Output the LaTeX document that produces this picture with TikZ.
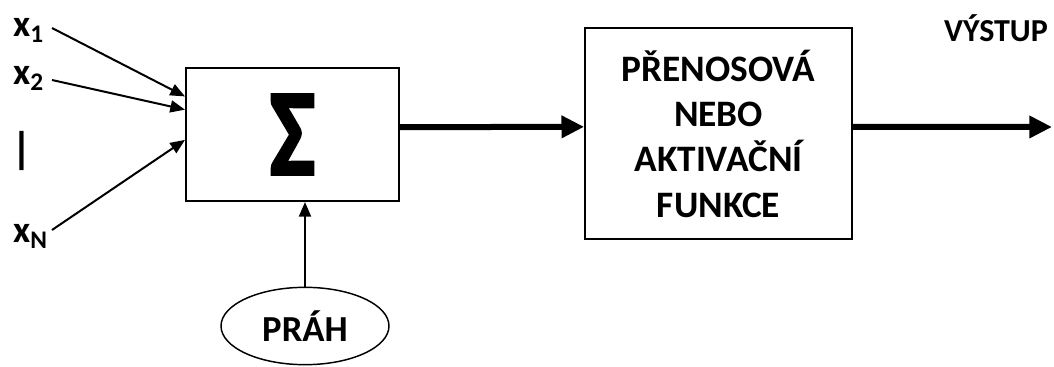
\documentclass[tikz,border=0pt]{standalone}
\usepackage{fontspec}
\setmainfont{Carlito}
\newfontfamily\sigmafont[BoldFont=*,BoldFeatures={FakeBold=2.5}]{Carlito Bold}
\usetikzlibrary{arrows.meta,shapes.geometric,calc}
\newcommand{\insub}[2]{#1\raisebox{-4pt}{\fontsize{19}{19}\selectfont #2}}
\begin{document}
\begin{tikzpicture}[x=0.75pt,y=-0.75pt,font=\bfseries,
  block/.style={draw,line width=1.5pt,inner sep=0pt},
  inlabel/.style={anchor=base west,inner sep=0pt,font=\bfseries\fontsize{28}{28}\selectfont},
  inarrow/.style={line width=1.5pt,-{Triangle[length=11pt,width=9pt]}},
  fatarrow/.style={line width=4.5pt,-{Triangle[length=17pt,width=16pt]}}]
\useasboundingbox (0,0) rectangle (1054,367);
\node [block,minimum width=159.75pt,minimum height=99.75pt,font=\sigmafont\bfseries\fontsize{72}{72}\selectfont] (sum) at (292.5,134.5) {\raisebox{-3.5pt}{\scalebox{1}[1.28]{Σ}}};
\node [block,minimum width=200pt,minimum height=158pt,align=center,font=\bfseries\fontsize{28}{34}\selectfont] (act) at (718.5,133.5) {PŘENOSOVÁ\\NEBO\\AKTIVAČNÍ\\FUNKCE};
\node [ellipse,draw,line width=1.1pt,inner sep=0pt,minimum width=126pt,minimum height=58pt,font=\bfseries\fontsize{27.5}{27.5}\selectfont] (thr) at (305,326) {PRÁH};
\node [inlabel] (x1) at (13,37) {\insub{x}{1}};
\node [inlabel] (x2) at (13,85) {\insub{x}{2}};
\node [inlabel] (xn) at (13,243) {\insub{x}{N}};
\node [font=\bfseries\fontsize{33}{33}\selectfont,inner sep=0pt] (dots) at (22,151) {|};
\node [font=\bfseries\fontsize{24}{24}\selectfont,inner sep=0pt] (vys) at (996,28) {VÝSTUP};
\coordinate (s1) at (52,28);
\coordinate (s2) at (52,80);
\coordinate (sn) at (52,230);
\coordinate (out) at (1052,127);
\draw [inarrow] (s1) -- ($(sum.north west)!0.218!(sum.south west)$);
\draw [inarrow] (s2) -- ($(sum.north west)!0.316!(sum.south west)$);
\draw [inarrow] (sn) -- ($(sum.north west)!0.54!(sum.south west)$);
\draw [inarrow] (thr.north) -- (thr.north |- sum.south);
\draw [fatarrow] ([yshift=5.5pt]sum.east) -- ([yshift=5pt]act.west);
\draw [fatarrow] ([yshift=5pt]act.east) -- (out);
\end{tikzpicture}
\end{document}
